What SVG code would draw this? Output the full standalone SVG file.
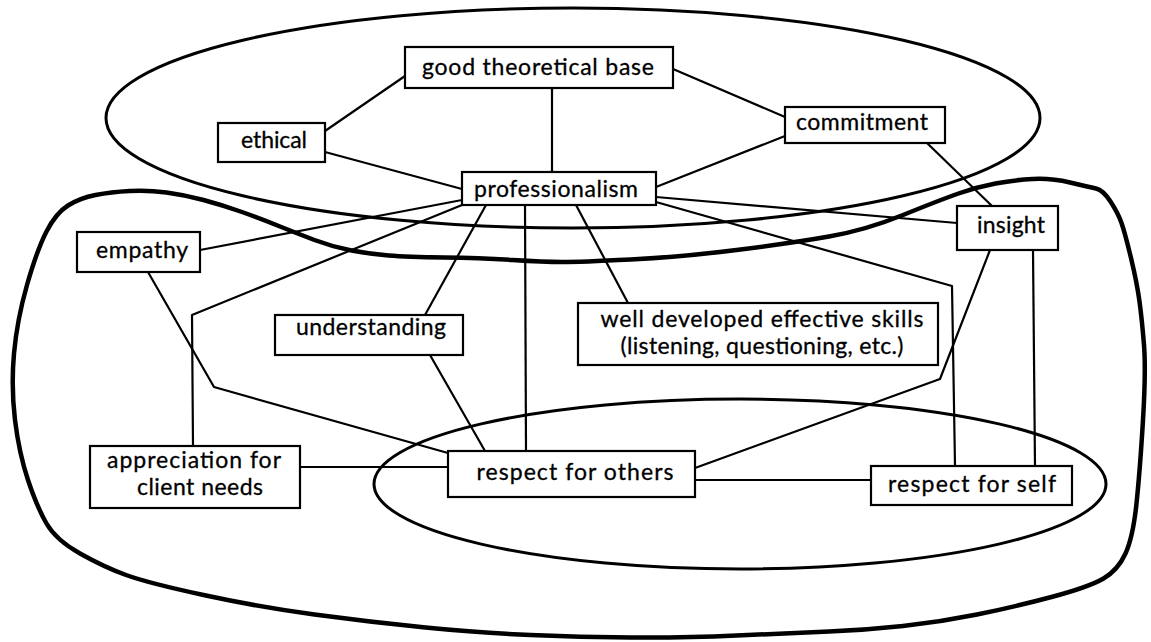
<svg xmlns="http://www.w3.org/2000/svg" width="1151" height="642" viewBox="0 0 1151 642">
<style>
.bg{fill:#fff}
.box{fill:#fff;stroke:#000;stroke-width:2.2}
.ln{fill:none;stroke:#000;stroke-width:2.2;stroke-linejoin:round}
.ell{fill:none;stroke:#000;stroke-width:3}
.blob{fill:none;stroke:#000;stroke-width:4.5;stroke-linejoin:round}
text{font-family:Lato,"Open Sans","Liberation Sans",sans-serif;font-size:23px;fill:#000;text-anchor:middle;stroke:#000;stroke-width:0.3}
</style>
<rect class="bg" x="0" y="0" width="1151" height="642"/>
<g id="regions">
<ellipse class="ell" cx="573" cy="118" rx="467" ry="110"/>
<ellipse class="ell" cx="740" cy="484" rx="366" ry="85"/>
<path class="blob" d="M27,285 Q37,250 46.5,231.5 Q56,213 68,205.5 Q80,198 95.5,195 Q111,192 129.5,191 Q148,190 166.5,192.5 Q185,195 203.5,200 Q222,205 240.5,211.5 Q259,218 277.5,225.5 Q296,233 314.5,240 Q333,247 351.5,250.5 Q370,254 388.5,255.5 Q407,257 444,257.5 Q481,258 512.5,260 Q544,262 562,262 Q580,262 630.5,259.5 Q681,257 736.5,250 Q792,243 829,236.5 Q866,230 903,215 Q940,200 958.5,193.5 Q977,187 995.5,183.5 Q1014,180 1032.5,179 Q1051,178 1070,182.5 Q1089,187 1096,188.5 Q1103,190 1110.5,201.5 Q1118,213 1121.5,223 Q1125,233 1131,258 Q1137,283 1139.5,301.5 Q1142,320 1144,345 Q1146,370 1143,420 Q1140,470 1136.5,503.5 Q1133,537 1125.5,553.5 Q1118,570 1103.5,578.5 Q1089,587 1051.5,597 Q1014,607 977,614.5 Q940,622 903,626 Q866,630 829,631.5 Q792,633 736.5,635.5 Q681,638 630.5,637.5 Q580,637 530.5,635 Q481,633 425.5,627.5 Q370,622 314.5,614.5 Q259,607 203.5,595 Q148,583 126,575 Q104,567 80,553.5 Q56,540 46.5,523.5 Q37,507 28,480 Q19,453 15,420 Q11,387 14,353.5 Q17,320 27,285 Z"/>
</g>
<g id="connectors">
<path class="ln" d="M405,76 L325,131"/>
<path class="ln" d="M552,88 L552,172"/>
<path class="ln" d="M673,69 L785,117"/>
<path class="ln" d="M325,152 L462,189"/>
<path class="ln" d="M785,136 L656,187"/>
<path class="ln" d="M927,143 L992,206"/>
<path class="ln" d="M656,197 L957,223"/>
<path class="ln" d="M656,202 L952,286 L955,466"/>
<path class="ln" d="M462,200 L200,250"/>
<path class="ln" d="M462,205 L192,315 L193,446"/>
<path class="ln" d="M486,205 L425,315"/>
<path class="ln" d="M525,205 L526,451"/>
<path class="ln" d="M576,205 L628,303"/>
<path class="ln" d="M148,272 L214,387 L448,453"/>
<path class="ln" d="M430,355 L485,451"/>
<path class="ln" d="M300,467 L448,467"/>
<path class="ln" d="M695,480 L871,480"/>
<path class="ln" d="M695,468 L940,379 L990,250"/>
<path class="ln" d="M1033,250 L1035,466"/>
</g>
<g id="n-good-theoretical-base"><rect class="box" x="405" y="47" width="268" height="41"/><text x="538" y="75" textLength="232">good theoretical base</text></g>
<g id="n-ethical"><rect class="box" x="218" y="123" width="107" height="39"/><text x="274" y="148" textLength="66">ethical</text></g>
<g id="n-commitment"><rect class="box" x="785" y="107" width="160" height="36"/><text x="862" y="130" textLength="132">commitment</text></g>
<g id="n-professionalism"><rect class="box" x="462" y="172" width="194" height="33"/><text x="556" y="197" textLength="164">professionalism</text></g>
<g id="n-insight"><rect class="box" x="957" y="206" width="101" height="44"/><text x="1011" y="233" textLength="68">insight</text></g>
<g id="n-empathy"><rect class="box" x="77" y="232" width="123" height="40"/><text x="142" y="258" textLength="92">empathy</text></g>
<g id="n-understanding"><rect class="box" x="275" y="315" width="188" height="40"/><text x="371" y="335" textLength="150">understanding</text></g>
<g id="n-skills"><rect class="box" x="578" y="303" width="360" height="62"/><text x="762" y="327" textLength="323">well developed effective skills</text><text x="762" y="354" textLength="283">(listening, questioning, etc.)</text></g>
<g id="n-appreciation"><rect class="box" x="90" y="446" width="210" height="62"/><text x="194" y="468" textLength="174">appreciation for</text><text x="200" y="495" textLength="126">client needs</text></g>
<g id="n-respect-others"><rect class="box" x="448" y="451" width="247" height="46"/><text x="575" y="480" textLength="197">respect for others</text></g>
<g id="n-respect-self"><rect class="box" x="871" y="466" width="201" height="39"/><text x="972" y="492" textLength="168">respect for self</text></g>
</svg>
